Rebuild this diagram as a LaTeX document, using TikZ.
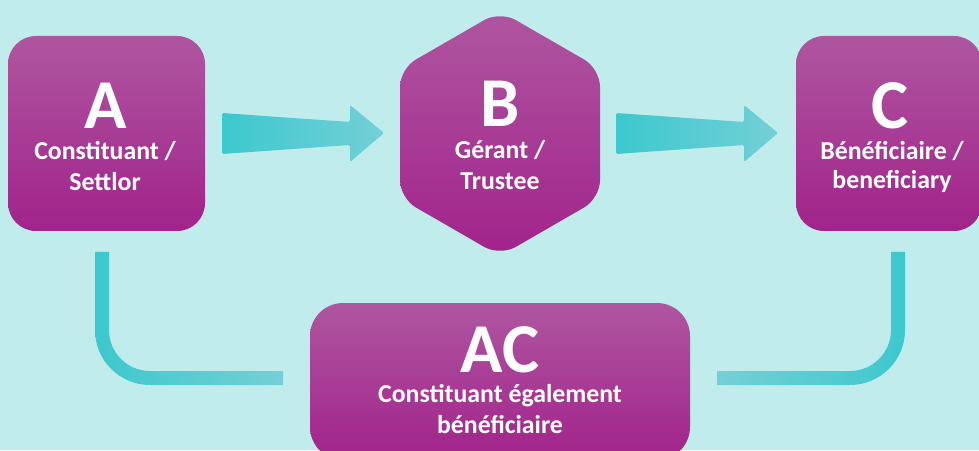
\documentclass[tikz,border=0pt]{standalone}
\usepackage{fontspec}
\setmainfont{Carlito}
\definecolor{bgc}{RGB}{192,236,236}
\definecolor{tealc}{RGB}{60,200,206}
\definecolor{lightc}{RGB}{116,208,214}
\definecolor{ptop}{RGB}{175,86,160}
\definecolor{pbot}{RGB}{161,35,139}
\tikzset{
  boxshade/.style={top color=ptop, bottom color=pbot, draw=none},
  pbox/.style={boxshade, rounded corners=28pt, inner sep=0pt},
  arrowshade/.style={left color=tealc, middle color=tealc, right color=lightc, draw=none, rounded corners=1.5pt},
  bigtxt/.style={text=white, font=\bfseries\fontsize{70}{70}\selectfont, anchor=base, inner sep=0pt},
  smalltxt/.style={text=white, font=\bfseries\fontsize{25.8}{30}\selectfont, anchor=base, inner sep=0pt},
}
\begin{document}
\begin{tikzpicture}[x=1pt,y=1pt]
\useasboundingbox (0,0) rectangle (979,450);
\clip (0,0) rectangle (979,450);
\fill[bgc] (0,0) rectangle (979,450);

% boxes
\node[pbox, minimum width=197pt, minimum height=195pt] (A) at (106.5,316.5) {};
\node[pbox, minimum width=186pt, minimum height=195pt] (C) at (889,316.5) {};
\node[pbox, rounded corners=33pt, minimum width=380pt, minimum height=157pt] (AC) at (500,68.5) {};
\coordinate (B) at (500,316.5);
\shade[boxshade, rounded corners=18pt]
  (500,439) -- (600,381.3) -- (600,251.7) -- (500,194) -- (400,251.7) -- (400,381.3) -- cycle;

% texts
\node[bigtxt] (Aletter) at (106,321) {A};
\node[smalltxt] (Al1) at (105,290) {Constituant /};
\node[smalltxt] (Al2) at (105,259.5) {Settlor};

\node[bigtxt] (Bletter) at (500,323) {B};
\node[smalltxt] (Bl1) at (500,291) {Gérant /};
\node[smalltxt] (Bl2) at (500,260) {Trustee};

\node[bigtxt] (Cletter) at (890,321) {C};
\node[smalltxt] (Cl1) at (892,290) {Bénéficiaire /};
\node[smalltxt] (Cl2) at (892,261) {beneficiary};

\node[bigtxt] (ACletter) at (500,78) {AC};
\node[smalltxt] (ACl1) at (500,48) {Constituant également};
\node[smalltxt] (ACl2) at (500,17) {bénéficiaire};

% arrows A -> B and B -> C
\shade[arrowshade] (222,337) -- (350,328) -- (350,345) -- (384,317) -- (350,288) -- (350,305) -- (222,296) -- cycle;
\shade[arrowshade] (616,337) -- (744,328) -- (744,345) -- (778,317) -- (744,288) -- (744,305) -- (616,296) -- cycle;

% connectors A -- AC and C -- AC
\shade[left color=tealc, middle color=tealc, right color=lightc, draw=none]
  (95,198) -- (95,120) arc[start angle=180, end angle=270, radius=55] -- (283,65) -- (283,79)
  -- (150,79) arc[start angle=270, end angle=180, radius=41] -- (109,198) -- cycle;
\shade[left color=lightc, middle color=tealc, right color=tealc, draw=none]
  (717,65) -- (850,65) arc[start angle=-90, end angle=0, radius=55] -- (905,198) -- (891,198)
  -- (891,120) arc[start angle=0, end angle=-90, radius=41] -- (717,79) -- cycle;
\end{tikzpicture}
\end{document}
